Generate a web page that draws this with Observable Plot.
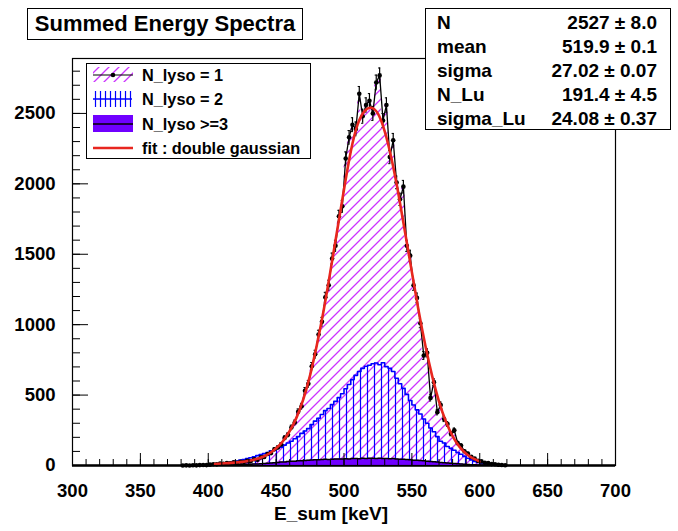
<!DOCTYPE html>
<html><head><meta charset="utf-8">
<script src="https://cdn.jsdelivr.net/npm/d3@7"></script>
<script src="https://cdn.jsdelivr.net/npm/@observablehq/plot@0.6"></script>
<style>
body{margin:0;background:#fff;}
#wrap{position:relative;width:678px;height:531px;font-family:"Liberation Sans",Arial,Helvetica,sans-serif;font-weight:bold;color:#000;overflow:hidden;}
#wrap > svg{position:absolute;left:0;top:0;}
.box{position:absolute;background:#fff;border:1px solid #000;box-sizing:border-box;}
#title{left:27px;top:8px;width:276px;height:32px;border-width:1.5px;font-size:22px;line-height:29px;text-align:center;}
#legend{left:86px;top:63px;width:225px;height:96px;}
#stats{left:425px;top:8px;width:246px;height:122px;}
.lrow{position:absolute;left:0;width:100%;height:24px;}
.lrow svg{position:absolute;left:6px;top:0;}
.lrow span{position:absolute;left:55px;top:0;line-height:24px;font-size:16.3px;white-space:nowrap;}
.srow{position:absolute;left:11px;right:13px;height:24px;line-height:24px;font-size:19px;white-space:nowrap;}
.srow .v{position:absolute;right:0;top:0;}
</style></head><body><div id="wrap"></div>
<script>
// ---------- data ----------
const title = "Summed Energy Spectra";
const xTitle = "E_sum [keV]";
const xDomain = [300, 700];
const yDomain = [0, 2890];
const binStart = 380;     // low edge of first listed bin (keV); bins outside are empty
const binWidth = 2.5;     // keV
const nLyso1 = [
  0, 1, 0, 2, 1, 3, 4, 3,
  6, 9, 8, 13, 12, 17, 15, 22,
  19, 27, 25, 34, 31, 44, 40, 58,
  61, 82, 88, 115, 128, 150, 196, 218,
  270, 305, 382, 421, 530, 580, 705, 790,
  930, 1020, 1195, 1280, 1470, 1560, 1770, 1840,
  2180, 2330, 2420, 2390, 2640, 2480, 2560, 2590,
  2500, 2720, 2770, 2450, 2560, 2190, 2310, 2010,
  1890, 1980, 1560, 1490, 1280, 1190, 1010, 781,
  800, 480, 592, 379, 430, 330, 295, 226,
  250, 160, 142, 101, 85, 62, 50, 33,
  29, 19, 17, 10, 9, 5, 4, 2
];
const nLyso2 = [
  0, 0, 1, 0, 2, 3, 2, 5,
  6, 8, 10, 14, 15, 19, 22, 28,
  31, 38, 42, 50, 55, 62, 70, 78,
  85, 92, 104, 110, 122, 130, 145, 160,
  172, 190, 205, 228, 245, 262, 290, 315,
  335, 362, 390, 405, 432, 455, 482, 510,
  545, 575, 610, 640, 668, 690, 705, 712,
  722, 728, 715, 730, 702, 690, 668, 620,
  580, 548, 505, 462, 430, 395, 366, 330,
  300, 266, 240, 205, 172, 160, 135, 122,
  108, 92, 80, 65, 52, 40, 29, 22,
  18, 12, 9, 6, 4, 3, 1, 0
];
const nLyso3 = [
  0, 0, 0, 0, 0, 0, 1, 0,
  1, 1, 2, 1, 2, 3, 3, 4,
  5, 5, 6, 8, 8, 10, 11, 13,
  14, 16, 18, 19, 22, 24, 25, 28,
  30, 31, 33, 34, 36, 37, 39, 40,
  41, 42, 44, 43, 45, 46, 47, 46,
  48, 47, 49, 50, 48, 51, 50, 52,
  51, 50, 52, 49, 50, 48, 49, 46,
  45, 44, 42, 41, 38, 37, 35, 33,
  31, 29, 27, 25, 22, 20, 18, 16,
  14, 12, 10, 9, 7, 6, 5, 4,
  3, 2, 2, 1, 1, 0, 0, 0
];
const fitE = [405,410,415,420,425,430,435,440,445,450,455,460,465,470,475,480,485,490,495,500,
              505,510,515,520,525,530,535,540,545,550,555,560,565,570,575,580,585,590,595,600];
const fitV = [10,14,17,21,26,34,44,60,85,122,172,245,340,470,640,855,1100,1380,1670,1960,
              2230,2420,2515,2540,2498,2372,2178,1933,1655,1373,1097,848,633,454,314,209,134,83,50,29];
const xMajorTicks = d3.range(300, 701, 50);
const xMinorTicks = d3.range(300, 701, 10);
const yMajorTicks = d3.range(0, 2501, 500);
const yMinorTicks = d3.range(0, 2801, 100);
const legendLabels = ["N_lyso = 1", "N_lyso = 2", "N_lyso >=3", "fit : double gaussian"];
const statsLabels = ["N", "mean", "sigma", "N_Lu", "sigma_Lu"];
const statsValues = ["2527 \u00b1 8.0", "519.9 \u00b1 0.1", "27.02 \u00b1 0.07", "191.4 \u00b1 4.5", "24.08 \u00b1 0.37"];

// ---------- styles ----------
const W = 678, H = 531, mL = 72, mR = 63, mT = 58, mB = 66;
const frameW = W - mL - mR, frameH = H - mT - mB;
const cMag = "#cc33ff", cBlue = "#0000ff", cPurple = "#7000ff", cRed = "#e8261f";

// ---------- derived tables ----------
function steps(vals) {
  const pts = vals.map((v, i) => ({x: binStart + i * binWidth, v}));
  pts.push({x: binStart + vals.length * binWidth, v: vals[vals.length - 1]});
  return pts;
}
const step1 = steps(nLyso1), step2 = steps(nLyso2), step3 = steps(nLyso3);
const pts1 = nLyso1.map((v, i) => ({x: binStart + (i + 0.5) * binWidth, v, e: Math.sqrt(v)}));
const fitPts = fitE.map((e, i) => ({x: e, y: fitV[i]}));

const svg = Plot.plot({
  width: W, height: H,
  marginLeft: mL, marginRight: mR, marginTop: mT, marginBottom: mB,
  x: {domain: xDomain},
  y: {domain: yDomain},
  style: {fontFamily: '"Liberation Sans", Arial, Helvetica, sans-serif', fontWeight: "bold", fontSize: "18px", background: "white", color: "black", overflow: "visible"},
  marks: [
    Plot.areaY(step1, {x: "x", y: "v", curve: "step-after", fill: "url(#hatchMag)"}),
    Plot.areaY(step2, {x: "x", y: "v", curve: "step-after", fill: "url(#hatchBlue)"}),
    Plot.lineY(step2, {x: "x", y: "v", curve: "step-after", stroke: cBlue, strokeWidth: 1.6}),
    Plot.ruleY([0], {stroke: "black", strokeWidth: 2.5}),
    Plot.areaY(step3, {x: "x", y: "v", curve: "step-after", fill: cPurple}),
    Plot.lineY(step3, {x: "x", y: "v", curve: "step-after", stroke: "black", strokeWidth: 1.5}),
    Plot.ruleX(pts1, {x: "x", y1: d => d.v - d.e, y2: d => d.v + d.e, stroke: "black", strokeWidth: 1.2}),
    Plot.ruleY(pts1, {y: d => d.v + d.e, x1: d => d.x - 0.8, x2: d => d.x + 0.8, stroke: "black", strokeWidth: 1}),
    Plot.ruleY(pts1, {y: d => d.v - d.e, x1: d => d.x - 0.8, x2: d => d.x + 0.8, stroke: "black", strokeWidth: 1}),
    Plot.lineY(pts1, {x: "x", y: "v", stroke: "black", strokeWidth: 1.3}),
    Plot.dot(pts1, {x: "x", y: "v", r: 2.3, fill: "black", stroke: "none"}),
    Plot.line(fitPts, {x: "x", y: "y", curve: "natural", stroke: cRed, strokeWidth: 2.6}),
    Plot.tickX(xMinorTicks, {x: d => d, insetTop: frameH - 6, stroke: "black", strokeWidth: 1}),
    Plot.tickX(xMajorTicks, {x: d => d, insetTop: frameH - 12, stroke: "black", strokeWidth: 1}),
    Plot.tickY(yMinorTicks, {y: d => d, insetRight: frameW - 8, stroke: "black", strokeWidth: 1}),
    Plot.tickY(yMajorTicks, {y: d => d, insetRight: frameW - 16, stroke: "black", strokeWidth: 1}),
    Plot.frame({stroke: "black", strokeWidth: 1.2}),
    Plot.axisX({ticks: xMajorTicks, tickSize: 0, tickPadding: 18, tickFormat: d => String(d), label: null, fontSize: 18.5, fontWeight: "bold"}),
    Plot.axisY({ticks: yMajorTicks, tickSize: 0, tickPadding: 17, tickFormat: d => String(d), label: null, fontSize: 18.5, fontWeight: "bold"}),
    Plot.text([xTitle], {frameAnchor: "bottom", dy: 54, dx: -13, fontSize: 19, fontWeight: "bold", fill: "black"})
  ]
});

const defs = d3.select(svg).insert("defs", ":first-child");
function addPatterns(sel, prefix, blueStep) {
  const pm = sel.append("pattern").attr("id", prefix + "Mag").attr("patternUnits", "userSpaceOnUse")
    .attr("width", 10).attr("height", 10);
  pm.append("path").attr("d", "M-2,2 L2,-2 M0,10 L10,0 M8,12 L12,8")
    .attr("stroke", cMag).attr("stroke-width", 1.3).attr("fill", "none");
  const pb = sel.append("pattern").attr("id", prefix + "Blue").attr("patternUnits", "userSpaceOnUse")
    .attr("width", blueStep).attr("height", 10);
  pb.append("line").attr("x1", blueStep / 2).attr("x2", blueStep / 2).attr("y1", 0).attr("y2", 10)
    .attr("stroke", cBlue).attr("stroke-width", 1.2);
}
addPatterns(defs, "hatch", 7);

const wrap = document.getElementById("wrap");
wrap.appendChild(svg);

// title box
const t = document.createElement("div");
t.className = "box"; t.id = "title"; t.textContent = title;
wrap.appendChild(t);

// legend
const leg = document.createElement("div");
leg.className = "box"; leg.id = "legend";
wrap.appendChild(leg);
const rowCenters = [11, 35, 60, 84];
legendLabels.forEach((lab, i) => {
  const row = document.createElement("div");
  row.className = "lrow";
  row.style.top = (rowCenters[i] - 12) + "px";
  const s = d3.create("svg").attr("width", 41).attr("height", 24);
  const d = s.append("defs");
  addPatterns(d, "leg" + i, 5);
  if (i === 0) {
    s.append("rect").attr("x", 0).attr("y", 4).attr("width", 40).attr("height", 15).attr("fill", `url(#leg${i}Mag)`);
    s.append("line").attr("x1", 0).attr("x2", 40).attr("y1", 12).attr("y2", 12).attr("stroke", "black").attr("stroke-width", 1.2);
    s.append("circle").attr("cx", 20).attr("cy", 12).attr("r", 2.3).attr("fill", "black");
  } else if (i === 1) {
    s.append("rect").attr("x", 0).attr("y", 4).attr("width", 39).attr("height", 16).attr("fill", `url(#leg${i}Blue)`);
    s.append("line").attr("x1", 0).attr("x2", 39).attr("y1", 12).attr("y2", 12).attr("stroke", cBlue).attr("stroke-width", 1.5);
  } else if (i === 2) {
    s.append("rect").attr("x", 0).attr("y", 3).attr("width", 40).attr("height", 17).attr("fill", cPurple);
    s.append("line").attr("x1", 0).attr("x2", 40).attr("y1", 12).attr("y2", 12).attr("stroke", "black").attr("stroke-width", 1.5);
  } else {
    s.append("line").attr("x1", 0).attr("x2", 40).attr("y1", 12).attr("y2", 12).attr("stroke", cRed).attr("stroke-width", 2.5);
  }
  row.appendChild(s.node());
  const sp = document.createElement("span");
  sp.textContent = lab;
  row.appendChild(sp);
  leg.appendChild(row);
});

// stats box
const st = document.createElement("div");
st.className = "box"; st.id = "stats";
wrap.appendChild(st);
statsLabels.forEach((lab, i) => {
  const r = document.createElement("div");
  r.className = "srow";
  r.style.top = (2 + i * 24) + "px";
  const a = document.createElement("span"); a.textContent = lab;
  const b = document.createElement("span"); b.className = "v"; b.textContent = statsValues[i];
  r.appendChild(a); r.appendChild(b);
  st.appendChild(r);
});
</script></body></html>
